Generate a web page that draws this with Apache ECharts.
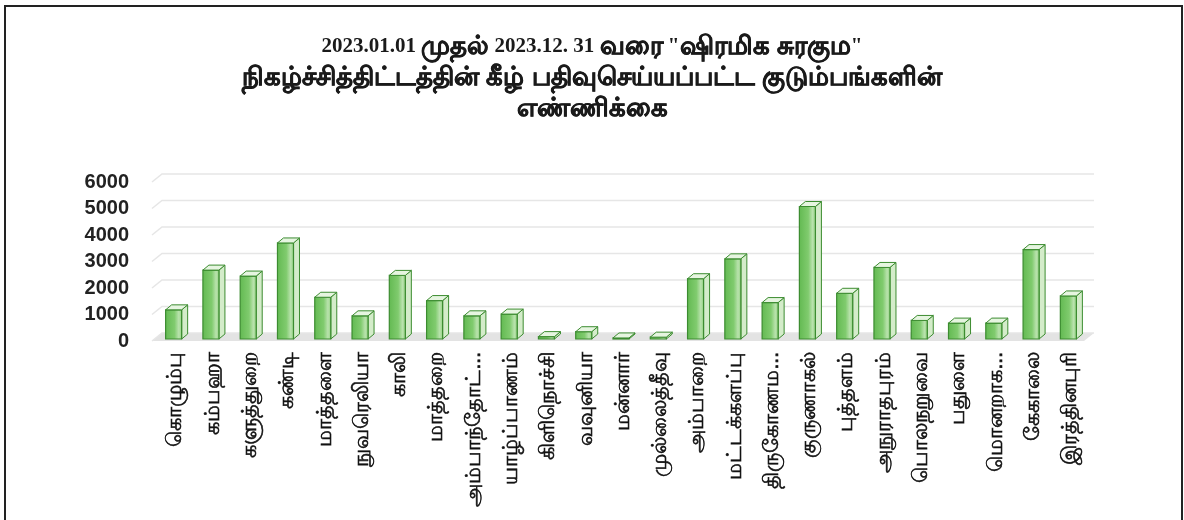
<!DOCTYPE html>
<html>
<head>
<meta charset="utf-8">
<script src="https://cdn.jsdelivr.net/npm/echarts@6/dist/echarts.min.js"></script>
<style>
    html, body { margin: 0; padding: 0; background: #ffffff; }
    #myChart { width: 1184px; height: 520px; }
</style>
</head>
<body>
<div id="myChart"></div>
<script>
    // மாவட்டங்கள்
    var districts = ['கொழும்பு', 'கம்பஹா', 'களுத்துறை', 'கண்டி', 'மாத்தளை', 'நுவரெலியா', 'காலி', 'மாத்தறை',
        'அம்பாந்தோட்...', 'யாழ்ப்பாணம்', 'கிளிநொச்சி', 'வவுனியா', 'மன்னார்', 'முல்லைத்தீவு', 'அம்பாறை',
        'மட்டக்களப்பு', 'திருகோணம...', 'குருணாகல்', 'புத்தளம்', 'அநுராதபுரம்', 'பொலநறுவை', 'பதுளை',
        'மொனறாக...', 'கேகாலை', 'இரத்தினபுரி'];
    var families = [1100, 2600, 2375, 3625, 1575, 875, 2400, 1450, 875, 940, 90, 275, 40, 70, 2275,
        3025, 1375, 5000, 1725, 2700, 700, 600, 600, 3375, 1625];
    var yTicks = [0, 1000, 2000, 3000, 4000, 5000, 6000];
    var titleLines = ['2023.01.01 முதல் 2023.12. 31 வரை "ஷிரமிக சுரகும"',
        'நிகழ்ச்சித்திட்டத்தின் கீழ் பதிவுசெய்யப்பட்ட குடும்பங்களின்',
        'எண்ணிக்கை'];

    var wallDx = 10, wallDy = 8;   // back wall depth
    var barDx = 6, barDy = 5;      // bar depth

    // tamil runs get their own rich style (bigger), numbers stay serif
    function richLine(line) {
        return line.replace(/([\u0B80-\u0BFF]+(?: [\u0B80-\u0BFF]+)*)|([^\u0B80-\u0BFF]+)/g, function (m, ta, other) {
            return ta ? '{t|' + ta + '}' : '{n|' + other + '}';
        });
    }

    var myChart = echarts.init(document.getElementById('myChart'));

    // back wall grid lines + floor
    function renderWall(params, api) {
        var cs = params.coordSys;
        var v = api.value(0);
        var y = api.coord([0, v])[1];
        var x0 = cs.x - wallDx / 2;
        var x1 = cs.x + cs.width + wallDx / 2;
        var children = [];
        if (v === 0) {
            children.push({
                type: 'polygon',
                shape: { points: [[x0, y], [x1 - wallDx, y], [x1, y - wallDy], [x0 + wallDx, y - wallDy]] },
                style: { fill: '#e3e3e3' },
                silent: true
            });
        }
        children.push({
            type: 'polyline',
            shape: { points: [[x0, y], [x0 + wallDx, y - wallDy], [x1, y - wallDy]] },
            style: { stroke: '#e6e6e6', lineWidth: 1.5, fill: null },
            silent: true
        });
        return { type: 'group', children: children };
    }

    // pseudo 3D bar
    function renderBar(params, api) {
        var idx = api.value(0);
        var top = api.coord([idx, api.value(1)]);
        var base = api.coord([idx, 0]);
        var w = api.size([1, 0])[0] * 0.43;
        var left = top[0] - (w + barDx) / 2 + 1;
        var yt = top[1] - 2, yb = base[1] - 2;
        var edge = '#3c8c30';
        return {
            type: 'group',
            children: [{
                type: 'polygon',
                shape: { points: [[left + w, yt], [left + w + barDx, yt - barDy], [left + w + barDx, yb - barDy], [left + w, yb]] },
                style: { fill: '#d4ecca', stroke: edge, lineWidth: 1 }
            }, {
                type: 'rect',
                shape: { x: left, y: yt, width: w, height: yb - yt },
                style: {
                    fill: new echarts.graphic.LinearGradient(0, 0, 1, 0, [
                        { offset: 0, color: '#62b951' },
                        { offset: 0.55, color: '#80cb6e' },
                        { offset: 0.8, color: '#b9e2ad' },
                        { offset: 1, color: '#8fd17d' }
                    ]),
                    stroke: edge, lineWidth: 1.2
                }
            }, {
                type: 'polygon',
                shape: { points: [[left, yt], [left + barDx, yt - barDy], [left + w + barDx, yt - barDy], [left + w, yt]] },
                style: { fill: '#e6f5e0', stroke: edge, lineWidth: 1 }
            }]
        };
    }

    var option = {
        backgroundColor: '#ffffff',
        animation: false,
        title: {
            text: titleLines.map(richLine).join('\n'),
            left: 'center',
            top: 26,
            textStyle: {
                lineHeight: 31,
                rich: {
                    n: {
                        fontFamily: '"Liberation Serif", "DejaVu Serif", serif',
                        fontSize: 21,
                        fontWeight: 'bold',
                        color: '#1a1a1a',
                        lineHeight: 31
                    },
                    t: {
                        fontSize: 26,
                        fontWeight: 'bold',
                        color: '#1a1a1a',
                        textBorderColor: '#1a1a1a',
                        textBorderWidth: 0.6,
                        lineHeight: 31
                    }
                }
            }
        },
        graphic: [{
            type: 'rect',
            shape: { x: 5, y: 6, width: 1177, height: 530 },
            style: { fill: null, stroke: '#222222', lineWidth: 2 },
            silent: true
        }],
        grid: {
            left: 157,
            right: 95,
            top: 182,
            bottom: 179
        },
        xAxis: {
            type: 'category',
            data: districts,
            axisLine: { show: false },
            axisTick: { show: false },
            axisLabel: {
                rotate: 90,
                interval: 0,
                margin: 11,
                fontSize: 21,
                color: '#111111',
                textBorderColor: '#111111',
                textBorderWidth: 0.6
            }
        },
        yAxis: {
            type: 'value',
            min: 0,
            max: 6000,
            interval: 1000,
            axisLine: { show: false },
            axisTick: { show: false },
            splitLine: { show: false },
            axisLabel: {
                margin: 28,
                fontSize: 20,
                fontWeight: 'bold',
                color: '#222222',
                fontFamily: '"Liberation Sans", Arial, sans-serif',
                formatter: function (v) { return String(v); }
            }
        },
        series: [{
            type: 'custom',
            name: 'wall',
            silent: true,
            z: 1,
            renderItem: renderWall,
            data: yTicks.map(function (t) { return [t]; }),
            encode: { y: 0 }
        }, {
            type: 'custom',
            name: 'குடும்பங்கள்',
            z: 2,
            renderItem: renderBar,
            data: families.map(function (v, i) { return [i, v]; }),
            encode: { x: 0, y: 1 }
        }]
    };
    myChart.setOption(option);
</script>
</body>
</html>
